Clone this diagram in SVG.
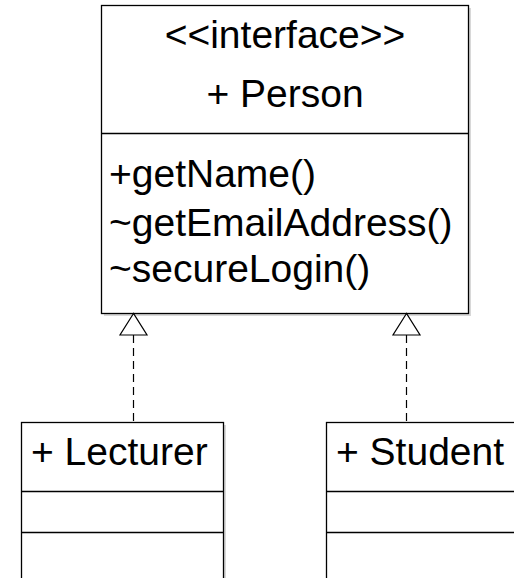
<svg xmlns="http://www.w3.org/2000/svg" width="514" height="578" viewBox="0 0 514 578">
<style>
.box{fill:#fff;stroke:#000;stroke-width:1.3}
.shadow{fill:#d8d8d8}
.sep{stroke:#000;stroke-width:1.3}
.t{font-family:"Liberation Sans",Arial,sans-serif;font-size:39px;fill:#000}
.c{text-anchor:middle}
.dash{stroke:#000;stroke-width:1.2;stroke-dasharray:8,5;fill:none}
.tri{fill:#fff;stroke:#000;stroke-width:1.2}
</style>
<rect width="514" height="578" fill="#fff"/>
<g id="person">
<rect class="shadow" x="104" y="8" width="367" height="308"/>
<rect class="box" x="101.5" y="5.5" width="367" height="308"/>
<line class="sep" x1="101.5" y1="133.5" x2="468.5" y2="133.5"/>
<text class="t c" x="285" y="48" font-size="30">&lt;&lt;interface&gt;&gt;</text>
<text class="t c" x="285" y="107">+ Person</text>
<text class="t" x="109" y="187">+getName()</text>
<text class="t" x="109" y="236">~getEmailAddress()</text>
<text class="t" x="109" y="282">~secureLogin()</text>
</g>
<g id="lecturer">
<rect class="shadow" x="24" y="425" width="202" height="160"/>
<rect class="box" x="21.5" y="422.5" width="202" height="160"/>
<line class="sep" x1="21.5" y1="491.5" x2="223.5" y2="491.5"/>
<line class="sep" x1="21.5" y1="532.5" x2="223.5" y2="532.5"/>
<text class="t" x="31" y="465">+ Lecturer</text>
</g>
<g id="student">
<rect class="box" x="326.5" y="422.5" width="200" height="160"/>
<line class="sep" x1="326.5" y1="491.5" x2="526.5" y2="491.5"/>
<line class="sep" x1="326.5" y1="532.5" x2="526.5" y2="532.5"/>
<text class="t" x="336" y="465">+ Student</text>
</g>
<g id="connectors">
<line class="dash" x1="133.5" y1="335" x2="133.5" y2="422"/>
<polygon class="tri" points="133.5,313.5 120,335 147,335"/>
<line class="dash" x1="406.5" y1="335" x2="406.5" y2="422"/>
<polygon class="tri" points="406.5,313.5 393,335 420,335"/>
</g>
</svg>
